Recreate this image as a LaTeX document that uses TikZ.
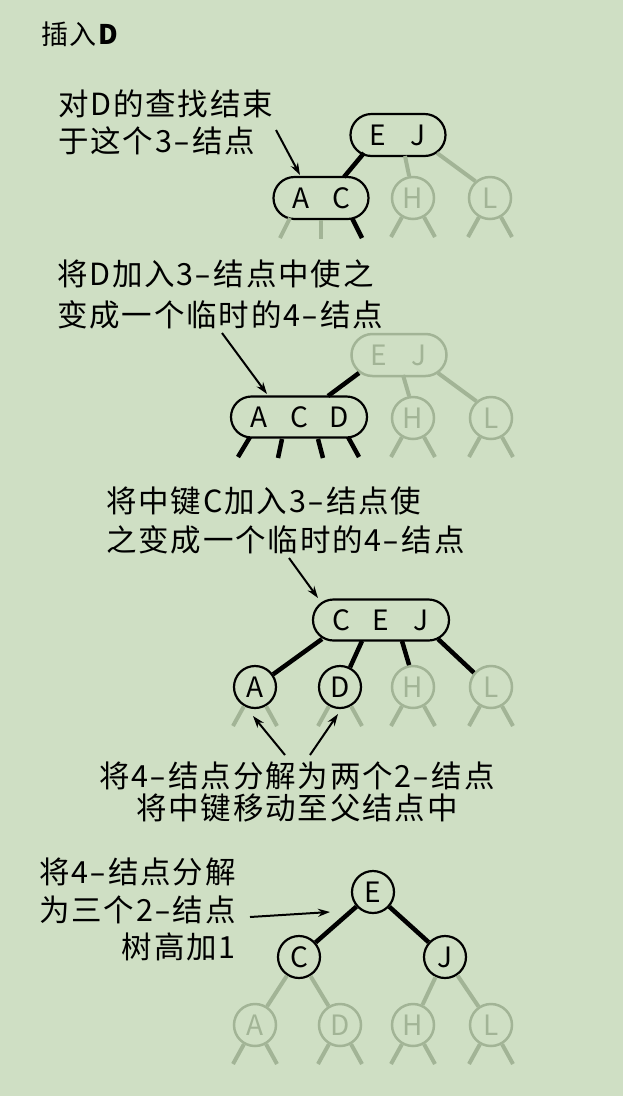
\documentclass[tikz,border=0pt]{standalone}
\usepackage{fontspec}
\usepackage{graphicx}
\setmainfont{Noto Sans CJK SC}[LetterSpace=6]
\usetikzlibrary{arrows.meta,calc}
\definecolor{bgc}{RGB}{207,223,196}
\definecolor{gry}{RGB}{162,180,150}
\newcommand{\mylegs}[2]{%
  \coordinate (#1-ll) at ($(#1)+(-22,39)$);
  \coordinate (#1-lr) at ($(#1)+(22,39)$);
  \draw[#2] (#1.240) -- (#1-ll);
  \draw[#2] (#1.300) -- (#1-lr);}
\newcommand{\kk}[1]{\makebox[40pt]{#1}}
\newcommand{\hy}{\kern1pt\scalebox{1.6}[1]{-}\kern2pt}
\begin{document}
\begin{tikzpicture}[x=1pt,y=-1pt,
  lbl/.style={inner sep=0pt, text=black, font=\fontsize{30.5}{36}\selectfont},
  bk/.style={draw=black, line width=2.2pt, text=black, inner sep=0pt, font=\fontsize{28}{30}\selectfont},
  gy/.style={draw=gry, line width=2.5pt, text=gry, inner sep=0pt, font=\fontsize{28}{30}\selectfont},
  circ/.style={circle, minimum size=42pt},
  pillthree/.style={rectangle, rounded corners=21pt, minimum width=95pt, minimum height=42pt},
  pillfour/.style={rectangle, rounded corners=20.5pt, minimum width=136pt, minimum height=41pt},
  blink/.style={draw=black, line width=4.5pt},
  glink/.style={draw=gry, line width=4pt},
  arr/.style={draw=black, line width=2pt, -{Stealth[length=12pt,width=8pt]}},
]
\fill[bgc] (0,0) rectangle (623,1096);
\useasboundingbox (0,0) rectangle (623,1096);

% ---------- title ----------
\node[lbl, anchor=west, font=\fontsize{27}{30}\selectfont] (title) at (41,34) {插入\textbf{D}};

% ---------- step 1 ----------
\node[lbl, anchor=west] (t1a) at (58,104) {对D的查找结束};
\node[lbl, anchor=west] (t1b) at (58,141) {于这个3\hy 结点};

\node[bk, pillthree] (EJ1) at (398,135) {\kk{E}\kk{J}};
\node[bk, pillthree] (AC1) at (321,198) {\kk{A}\kk{C}};
\node[gy, circ] (H1) at (413,198) {H};
\node[gy, circ] (L1) at (490,198) {L};

\draw[blink] ($(EJ1)+(-34,18)$) -- ($(AC1)+(23,-21)$);
\draw[glink] ($(EJ1)+(7,21)$) -- (H1.100);
\draw[glink] ($(EJ1)+(39,18)$) -- (L1.131);

\coordinate (AC1-a) at ($(AC1)+(-41,40)$);
\coordinate (AC1-b) at ($(AC1)+(0,41)$);
\coordinate (AC1-c) at ($(AC1)+(41,40)$);
\draw[glink] ($(AC1)+(-31,20)$) -- (AC1-a);
\draw[glink] ($(AC1)+(0,22)$) -- (AC1-b);
\draw[blink] ($(AC1)+(31,20)$) -- (AC1-c);
\mylegs{H1}{glink}
\mylegs{L1}{glink}

\coordinate (s1) at (276,130);
\draw[arr] (s1) -- ($(AC1)+(-21,-23)$);

% ---------- step 2 ----------
\node[lbl, anchor=west] (t2a) at (57,274) {将D加入3\hy 结点中使之};
\node[lbl, anchor=west] (t2b) at (57,315) {变成一个临时的4\hy 结点};

\node[gy, pillthree] (EJ2) at (399,355) {\kk{E}\kk{J}};
\node[bk, pillfour] (ACD2) at (299,417) {\kk{A}\kk{C}\kk{D}};
\node[gy, circ] (H2) at (413,418) {H};
\node[gy, circ] (L2) at (491,418) {L};

\draw[blink] ($(ACD2)+(29,-21)$) -- ($(EJ2)+(-40,18)$);
\draw[glink] ($(EJ2)+(4,20)$) -- (H2.100);
\draw[glink] ($(EJ2)+(39,18)$) -- (L2.131);

\coordinate (ACD2-a) at ($(ACD2)+(-61,40)$);
\coordinate (ACD2-b) at ($(ACD2)+(-21,41)$);
\coordinate (ACD2-c) at ($(ACD2)+(24,41)$);
\coordinate (ACD2-d) at ($(ACD2)+(60,40)$);
\draw[blink] ($(ACD2)+(-49,20)$) -- (ACD2-a);
\draw[blink] ($(ACD2)+(-17,22)$) -- (ACD2-b);
\draw[blink] ($(ACD2)+(19,22)$) -- (ACD2-c);
\draw[blink] ($(ACD2)+(49,20)$) -- (ACD2-d);
\mylegs{H2}{glink}
\mylegs{L2}{glink}

\coordinate (s2) at (222,333);
\draw[arr] (s2) -- ($(ACD2)+(-32,-23)$);

% ---------- step 3 ----------
\node[lbl, anchor=west] (t3a) at (106,501) {将中键C加入3\hy 结点使};
\node[lbl, anchor=west] (t3b) at (106,540) {之变成一个临时的4\hy 结点};

\node[bk, pillfour] (CEJ3) at (381,620) {\kk{C}\kk{E}\kk{J}};
\node[bk, circ] (A3) at (255,687) {A};
\node[bk, circ] (D3) at (340,687) {D};
\node[gy, circ] (H3) at (413,687) {H};
\node[gy, circ] (L3) at (491,687) {L};

\draw[blink] ($(CEJ3)+(-59,19)$) -- (A3.35);
\draw[blink] ($(CEJ3)+(-19,21)$) -- (D3.63);
\draw[blink] ($(CEJ3)+(21,21)$) -- (H3.100);
\draw[blink] ($(CEJ3)+(57,19)$) -- (L3.140);
\mylegs{A3}{glink}
\mylegs{D3}{glink}
\mylegs{H3}{glink}
\mylegs{L3}{glink}

\coordinate (s3) at (289,558);
\draw[arr] (s3) -- ($(CEJ3)+(-63,-22)$);

\node[lbl, anchor=center] (t4a) at (297,776) {将4\hy 结点分解为两个2\hy 结点};
\node[lbl, anchor=center] (t4b) at (297,808) {将中键移动至父结点中};

\coordinate (s4a) at (285,755);
\coordinate (s4b) at (310,755);
\draw[arr] (s4a) -- ($(A3)+(-2,29)$);
\draw[arr] (s4b) -- ($(D3)+(-2,27)$);

% ---------- step 4 ----------
\node[lbl, anchor=east] (t5a) at (236,872) {将4\hy 结点分解};
\node[lbl, anchor=east] (t5b) at (236,910) {为三个2\hy 结点};
\node[lbl, anchor=east] (t5c) at (236,947) {树高加1};

\node[bk, circ] (E4) at (373,892) {E};
\node[bk, circ] (C4) at (299,957) {C};
\node[bk, circ] (J4) at (445,957) {J};
\node[gy, circ] (A4) at (255,1025) {A};
\node[gy, circ] (D4) at (340,1025) {D};
\node[gy, circ] (H4) at (413,1025) {H};
\node[gy, circ] (L4) at (491,1025) {L};

\draw[blink] (E4) -- (C4);
\draw[blink] (E4) -- (J4);
\draw[glink] (C4) -- (A4);
\draw[glink] (C4) -- (D4);
\draw[glink] (J4) -- (H4);
\draw[glink] (J4) -- (L4);
\mylegs{A4}{glink}
\mylegs{D4}{glink}
\mylegs{H4}{glink}
\mylegs{L4}{glink}

\coordinate (s5) at (250,917);
\draw[arr] (s5) -- ($(E4)+(-43,20)$);
\end{tikzpicture}
\end{document}
